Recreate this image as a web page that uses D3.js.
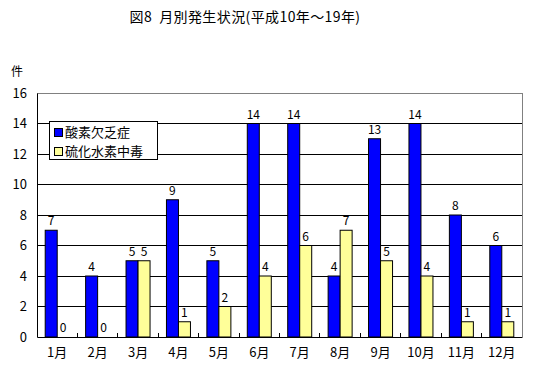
<!DOCTYPE html>
<html>
<head>
<meta charset="utf-8">
<script src="https://cdn.jsdelivr.net/npm/d3@7"></script>
<style>
  body { margin: 0; background: #fff; }
  text { font-family: "Noto Sans CJK JP", "DejaVu Sans", sans-serif; fill: #000; }
</style>
</head>
<body>
<div id="chart"></div>
<script>
const months = ["1月", "2月", "3月", "4月", "5月", "6月", "7月", "8月", "9月", "10月", "11月", "12月"];
const seriesNames = ["酸素欠乏症", "硫化水素中毒"];
const oxygen = [7, 4, 5, 9, 5, 14, 14, 4, 13, 14, 8, 6];
const hydrogenSulfide = [0, 0, 5, 1, 2, 4, 6, 7, 5, 4, 1, 1];
const yTicks = [0, 2, 4, 6, 8, 10, 12, 14, 16];
const colors = ["#0000ff", "#ffff99"];

const W = 533, H = 374;
const margin = { top: 93, right: 11, bottom: 37, left: 37 };
const width = W - margin.left - margin.right;
const height = H - margin.top - margin.bottom;

const svg = d3.select("#chart").append("svg")
    .attr("width", W)
    .attr("height", H);

svg.append("text")
    .attr("x", 245).attr("y", 22)
    .attr("text-anchor", "middle")
    .style("font-size", "14px")
    .style("white-space", "pre")
    .style("letter-spacing", "0.4px")
    .text("図8  月別発生状況(平成10年～19年)");

svg.append("text")
    .attr("x", 11).attr("y", 76)
    .style("font-size", "12px")
    .text("件");

const g = svg.append("g").attr("transform", `translate(${margin.left},${margin.top})`);

const x = d3.scaleBand().domain(months).range([0, width]);
const y = d3.scaleLinear().domain([0, 16]).range([height, 0]);
const bw = 12;
const series = [oxygen, hydrogenSulfide];

// gridlines
g.selectAll(".grid")
    .data(yTicks.filter(d => d > 0 && d < 16))
    .enter().append("line")
    .attr("x1", 0).attr("x2", width)
    .attr("y1", d => y(d)).attr("y2", d => y(d))
    .attr("stroke", "#000").attr("stroke-width", 1)
    .attr("shape-rendering", "crispEdges");

// plot border top/right
g.append("path")
    .attr("d", `M0,${y(16)}H${width}V${height}`)
    .attr("fill", "none").attr("stroke", "#808080")
    .attr("shape-rendering", "crispEdges");

// bars
series.forEach((vals, si) => {
    g.selectAll(".bar" + si)
        .data(vals)
        .enter().append("rect")
        .attr("x", (d, i) => x(months[i]) + x.bandwidth() / 2 - bw + si * bw)
        .attr("y", d => y(d))
        .attr("width", bw)
        .attr("height", d => height - y(d))
        .attr("fill", colors[si])
        .attr("stroke", "#000").attr("stroke-width", 1);

    g.selectAll(".lab" + si)
        .data(vals)
        .enter().append("text")
        .attr("x", (d, i) => x(months[i]) + x.bandwidth() / 2 - bw / 2 + si * bw)
        .attr("y", d => y(d) - 5)
        .attr("text-anchor", "middle")
        .style("font-size", "12px")
        .text(d => d);
});

// y axis
const yAxis = g.append("g")
    .call(d3.axisLeft(y).tickValues(yTicks).tickSize(0).tickPadding(10));
yAxis.select(".domain").attr("stroke", "#000");
yAxis.selectAll("text").style("font-size", "13px");

// x axis
const xAxis = g.append("g")
    .attr("transform", `translate(0,${height})`)
    .call(d3.axisBottom(x).tickSize(0).tickPadding(11));
xAxis.select(".domain").attr("stroke", "#000");
xAxis.selectAll("text").style("font-size", "13px");

// small ticks between categories (inside)
g.selectAll(".sep")
    .data(months.slice(1))
    .enter().append("line")
    .attr("x1", d => x(d)).attr("x2", d => x(d))
    .attr("y1", height).attr("y2", height - 4)
    .attr("stroke", "#000")
    .attr("shape-rendering", "crispEdges");

// legend
const lg = svg.append("g").attr("transform", "translate(49,121)");
lg.append("rect")
    .attr("width", 108).attr("height", 38)
    .attr("fill", "#fff").attr("stroke", "#000")
    .attr("shape-rendering", "crispEdges");
seriesNames.forEach((name, i) => {
    lg.append("rect")
        .attr("x", 5).attr("y", 7 + i * 19)
        .attr("width", 8).attr("height", 8)
        .attr("fill", colors[i]).attr("stroke", "#000")
        .attr("shape-rendering", "crispEdges");
    lg.append("text")
        .attr("x", 16).attr("y", 16 + i * 19)
        .style("font-size", "13px")
        .text(name);
});
</script>
</body>
</html>
